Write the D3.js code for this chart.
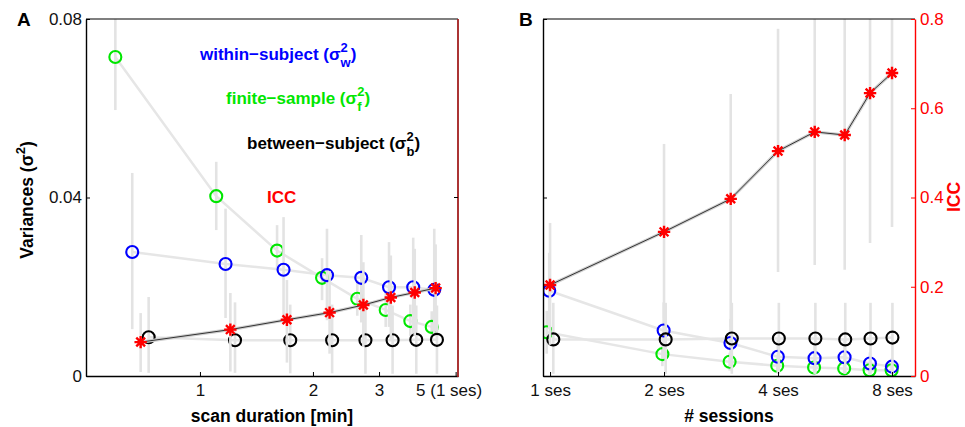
<!DOCTYPE html>
<html>
<head>
<meta charset="utf-8">
<script src="https://cdn.jsdelivr.net/npm/d3@7"></script>
<style>
  body { margin: 0; background: #fff; }
  svg { display: block; font-family: "Liberation Sans", Arial, Helvetica, sans-serif; }
</style>
</head>
<body>
<div id="chart"></div>
<script>
// ---- data ----
// panel A: scan duration (min), panel B: number of sessions
var durations = [0.66, 1.17, 1.67, 2.18, 2.69, 3.19, 3.70, 4.21];
var sessions = [1, 2, 3, 4, 5, 6, 7, 8];

var durTicks = [1, 2, 3, 4.8];
var durTickLabels = ["1", "2", "3", "5 (1 ses)"];
var sesTicks = [1, 2, 4, 8];
var sesTickLabels = ["1 ses", "2 ses", "4 ses", "8 ses"];
var varTicks = [0, 0.04, 0.08];
var varTickLabels = ["0", "0.04", "0.08"];
var iccTicks = [0, 0.2, 0.4, 0.6, 0.8];
var iccTickLabels = ["0", "0.2", "0.4", "0.6", "0.8"];

// panel A values
var finiteA = [0.0715, 0.0403, 0.0281, 0.0220, 0.0173, 0.0148, 0.0123, 0.0110];
var finiteALo = [0.0596, 0.0327, 0.0238, 0.0170, 0.0135, 0.0110, 0.0090, 0.0075];
var finiteAHi = [0.0840, 0.0480, 0.0338, 0.0264, 0.0215, 0.0190, 0.0160, 0.0145];
var withinA = [0.0278, 0.0251, 0.0238, 0.0226, 0.0220, 0.0199, 0.0199, 0.0193];
var withinALo = [0.0105, 0.0130, 0.0120, 0.0125, 0.0120, 0.0110, 0.0095, 0.0090];
var withinAHi = [0.0455, 0.0375, 0.0356, 0.0330, 0.0316, 0.0300, 0.0310, 0.0330];
var betweenA = [0.0087, 0.0080, 0.0080, 0.0080, 0.0080, 0.0080, 0.0081, 0.0081];
var betweenALo = [0.0007, 0.0007, 0.0006, 0.0006, 0.0005, 0.0005, 0.0005, 0.0005];
var betweenAHi = [0.0177, 0.0165, 0.0160, 0.0160, 0.0158, 0.0158, 0.0158, 0.0158];
var iccA = [0.076, 0.104, 0.126, 0.142, 0.159, 0.176, 0.187, 0.197];
var iccALo = [0.009, 0.010, 0.030, 0.050, 0.065, 0.080, 0.090, 0.100];
var iccAHi = [0.141, 0.186, 0.215, 0.235, 0.255, 0.270, 0.285, 0.295];

// panel B values
var finiteB = [0.0098, 0.0049, 0.0032, 0.0023, 0.0019, 0.0017, 0.0013, 0.0013];
var finiteBLo = [0.0050, 0.0022, 0.0012, 0.0008, 0.0006, 0.0005, 0.0004, 0.0004];
var finiteBHi = [0.0146, 0.0076, 0.0052, 0.0038, 0.0032, 0.0029, 0.0022, 0.0022];
var withinB = [0.0191, 0.0102, 0.0074, 0.0043, 0.0040, 0.0042, 0.0028, 0.0021];
var withinBLo = [0.0105, 0.0040, 0.0020, 0.0005, 0.0005, 0.0005, 0.0003, 0.0002];
var withinBHi = [0.0276, 0.0165, 0.0128, 0.0081, 0.0075, 0.0079, 0.0053, 0.0040];
var betweenB = [0.0082, 0.0082, 0.0084, 0.0084, 0.0084, 0.0082, 0.0084, 0.0086];
var betweenBLo = [0.0005, 0.0005, 0.0005, 0.0005, 0.0005, 0.0005, 0.0005, 0.0005];
var betweenBHi = [0.0164, 0.0164, 0.0164, 0.0164, 0.0164, 0.0164, 0.0164, 0.0164];
var iccB = [0.204, 0.323, 0.397, 0.504, 0.547, 0.540, 0.634, 0.679];
var iccBLo = [0.070, 0.130, 0.110, 0.233, 0.249, 0.238, 0.298, 0.334];
var iccBHi = [0.343, 0.520, 0.632, 0.778, 0.850, 0.840, 0.970, 1.020];

// ---- layout / style ----
var W = 965, H = 427;
var plotTop = 19, plotBottom = 376;   // note: "top" is taken by window.top
var GREEN = "#00e600", BLUE = "#0000ff", RED = "#ff0000", GREY = "#e3e3e3";
var FONT = 17;

var svg = d3.select("#chart").append("svg").attr("width", W).attr("height", H);

var yVar = d3.scaleLinear().domain([0, 0.08]).range([plotBottom, plotTop]);
var yIcc = d3.scaleLinear().domain([0, 0.8]).range([plotBottom, plotTop]);

function starPath(r) {
    var d = "";
    for (var k = 0; k < 4; k++) {
        var a = k * Math.PI / 4;
        var cx = Math.cos(a) * r, cy = Math.sin(a) * r;
        d += "M" + (-cx) + "," + (-cy) + "L" + cx + "," + cy;
    }
    return d;
}

function drawPanel(opt) {
    var x = opt.x;
    var g = svg.append("g");
    var clipId = "clip" + opt.name;
    svg.append("clipPath").attr("id", clipId).append("rect")
        .attr("x", opt.left).attr("y", plotTop)
        .attr("width", opt.right - opt.left).attr("height", plotBottom - plotTop);
    var plot = g.append("g").attr("clip-path", "url(#" + clipId + ")");

    var series = opt.series;
    function px(s, i) { return x(opt.xs[i] + s.dx); }

    // grey connecting lines of the variance series
    series.forEach(function (s) {
        if (s.star) return;
        var line = d3.line()
            .x(function (d, i) { return px(s, i); })
            .y(function (d) { return s.y(d); });
        plot.append("path").datum(s.vals).attr("d", line)
            .attr("fill", "none").attr("stroke", "#e6e6e6").attr("stroke-width", 2.5);
    });

    series.forEach(function (s) {
        if (s.star) {
            var iline = d3.line()
                .x(function (d, i) { return px(s, i); })
                .y(function (d) { return s.y(d); });
            plot.append("path").datum(s.vals).attr("d", iline)
                .attr("fill", "none").attr("stroke", "#cfcfcf").attr("stroke-width", 3.2);
            plot.append("path").datum(s.vals).attr("d", iline)
                .attr("fill", "none").attr("stroke", "#333").attr("stroke-width", 1);
        }
        // error bars
        plot.selectAll(null).data(s.vals).enter().append("line")
            .attr("x1", function (d, i) { return px(s, i); })
            .attr("x2", function (d, i) { return px(s, i); })
            .attr("y1", function (d, i) { return s.y(s.lo[i]); })
            .attr("y2", function (d, i) { return s.y(s.hi[i]); })
            .attr("stroke", GREY).attr("stroke-width", 2.6);
        if (s.star) {
            plot.selectAll(null).data(s.vals).enter().append("path")
                .attr("d", starPath(6.2))
                .attr("transform", function (d, i) { return "translate(" + px(s, i) + "," + s.y(d) + ")"; })
                .attr("stroke", s.color).attr("stroke-width", 2.4).attr("fill", "none");
        } else {
            plot.selectAll(null).data(s.vals).enter().append("circle")
                .attr("cx", function (d, i) { return px(s, i); })
                .attr("cy", function (d) { return s.y(d); })
                .attr("r", 6)
                .attr("fill", "none").attr("stroke", s.color).attr("stroke-width", 2.1);
        }
    });

    // axes
    var xAxis = d3.axisBottom(x).tickValues(opt.xTicks)
        .tickFormat(function (d, i) { return opt.xTickLabels[i]; })
        .tickSize(-4).tickSizeOuter(0).tickPadding(8);
    var gx = g.append("g").attr("transform", "translate(0," + plotBottom + ")").call(xAxis);
    gx.select(".domain").attr("stroke-width", 1.4);
    gx.selectAll("text").attr("font-size", FONT).attr("font-family", null).attr("fill", "#111")
        .attr("dx", function (d, i) { return opt.lastLabelShift && i === opt.xTicks.length - 1 ? opt.lastLabelShift : 0; });

    var yAxis = d3.axisLeft(yVar).tickValues(varTicks)
        .tickFormat(function (d, i) { return opt.leftLabels ? varTickLabels[i] : ""; })
        .tickSize(-4).tickSizeOuter(0).tickPadding(4);
    var gy = g.append("g").attr("transform", "translate(" + opt.left + ",0)").call(yAxis);
    gy.select(".domain").attr("stroke-width", 1.4);
    gy.selectAll("text").attr("font-size", FONT).attr("font-family", null).attr("fill", "#111");

    // top border
    g.append("line").attr("x1", opt.left).attr("x2", opt.right).attr("y1", plotTop).attr("y2", plotTop)
        .attr("stroke", "#000").attr("stroke-width", 1.2);

    if (opt.rightLabels) {
        var rAxis = d3.axisRight(yIcc).tickValues(iccTicks)
            .tickFormat(function (d, i) { return iccTickLabels[i]; })
            .tickSize(-4).tickSizeOuter(0).tickPadding(5);
        var gr = g.append("g").attr("transform", "translate(" + opt.right + ",0)").call(rAxis);
        gr.select(".domain").attr("stroke", RED).attr("stroke-width", 1.4);
        gr.selectAll(".tick line").attr("stroke", RED);
        gr.selectAll("text").attr("font-size", FONT).attr("font-family", null).attr("fill", RED);
    } else {
        g.append("line").attr("x1", opt.right).attr("x2", opt.right).attr("y1", plotTop).attr("y2", plotBottom + 1)
            .attr("stroke", "#a21f1f").attr("stroke-width", 1.8);
        g.append("line").attr("x1", opt.right).attr("x2", opt.right - 4)
            .attr("y1", yVar(0.04)).attr("y2", yVar(0.04)).attr("stroke", "#000");
    }

    // panel letter
    g.append("text").attr("x", opt.letterX).attr("y", 26).attr("font-size", 19)
        .attr("font-weight", "bold").text(opt.name);
    // x title
    g.append("text").attr("x", (opt.left + opt.right) / 2).attr("y", 422)
        .attr("text-anchor", "middle").attr("font-size", 17.5).attr("font-weight", "bold")
        .text(opt.xTitle);
}

var xA = d3.scaleLog().domain([0.497, 4.87]).range([86, 458]);
var xB = d3.scaleLog().base(2).domain([0.958, 9.2]).range([543, 915]);

drawPanel({
    name: "A", letterX: 17, left: 86, right: 458, x: xA, xs: durations,
    xTicks: durTicks, xTickLabels: durTickLabels, xTitle: "scan duration [min]",
    leftLabels: true, rightLabels: false, lastLabelShift: -7,
    series: [
        { vals: finiteA, lo: finiteALo, hi: finiteAHi, color: GREEN, y: yVar, dx: -0.065 },
        { vals: withinA, lo: withinALo, hi: withinAHi, color: BLUE, y: yVar, dx: 0 },
        { vals: betweenA, lo: betweenALo, hi: betweenAHi, color: "#000", y: yVar, dx: 0.07 },
        { vals: iccA, lo: iccALo, hi: iccAHi, color: RED, y: yIcc, dx: 0.035, star: true }
    ]
});

drawPanel({
    name: "B", letterX: 519, left: 543, right: 915, x: xB, xs: sessions,
    xTicks: sesTicks, xTickLabels: sesTickLabels, xTitle: "# sessions",
    leftLabels: false, rightLabels: true,
    series: [
        { vals: finiteB, lo: finiteBLo, hi: finiteBHi, color: GREEN, y: yVar, dx: -0.02 },
        { vals: withinB, lo: withinBLo, hi: withinBHi, color: BLUE, y: yVar, dx: -0.005 },
        { vals: betweenB, lo: betweenBLo, hi: betweenBHi, color: "#000", y: yVar, dx: 0.02 },
        { vals: iccB, lo: iccBLo, hi: iccBHi, color: RED, y: yIcc, dx: 0, star: true }
    ]
});

// legend labels with stacked super/subscripts
function sigmaText(x, y, prefix, sub, color) {
    var t = svg.append("text").attr("x", x).attr("y", y).attr("fill", color)
        .attr("font-weight", "bold").attr("font-size", 17);
    t.append("tspan").text(prefix + " (\u03c3");
    var sup = t.append("tspan").attr("font-size", 13).attr("dy", -8).text("2");
    var supW = sup.node().getComputedTextLength();
    var sb = t.append("tspan").attr("font-size", 13).attr("dx", -supW).attr("dy", 15).text(sub);
    var subW = sb.node().getComputedTextLength();
    t.append("tspan").attr("dx", Math.max(0, supW - subW)).attr("dy", -7).text(")");
}
sigmaText(200, 60, "within\u2212subject", "w", BLUE);
sigmaText(226, 104, "finite\u2212sample", "f", GREEN);
sigmaText(247, 149, "between\u2212subject", "b", "#000");
svg.append("text").attr("x", 267).attr("y", 203).attr("fill", RED)
    .attr("font-weight", "bold").attr("font-size", 17).text("ICC");

// y titles
var yt = svg.append("text").attr("transform", "translate(33,200) rotate(-90)")
    .attr("text-anchor", "middle").attr("font-size", 17.5).attr("font-weight", "bold");
yt.append("tspan").text("Variances (\u03c3");
yt.append("tspan").attr("font-size", 13).attr("dy", -8).text("2");
yt.append("tspan").attr("dy", 8).text(")");

svg.append("text").attr("transform", "translate(960,197) rotate(-90)")
    .attr("text-anchor", "middle").attr("font-size", 17.5).attr("font-weight", "bold")
    .attr("fill", RED).text("ICC");
</script>
</body>
</html>
